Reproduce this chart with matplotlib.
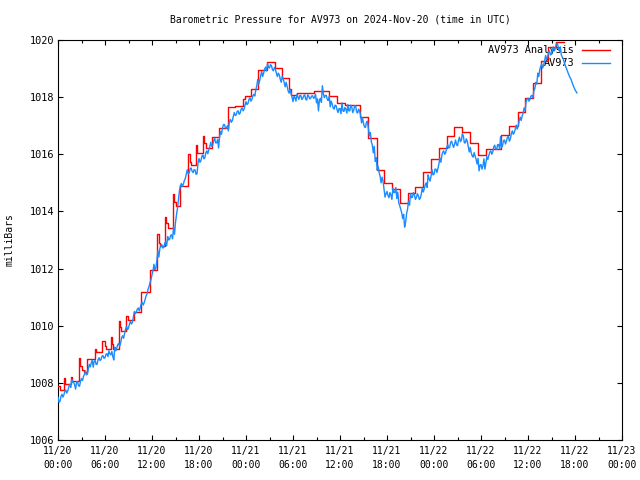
import numpy as np
import matplotlib
matplotlib.use('Agg')
import matplotlib.pyplot as plt

# time axis: hours since 2024-11-20 00:00 UTC

obs_step = 0.25
obs_pressure = [
    1007.50, 1007.35, 1007.60, 1007.58, 1007.75, 1007.72, 1007.95, 1008.12,
    1008.02, 1007.78, 1008.03, 1007.88, 1008.15, 1008.22, 1008.42, 1008.30,
    1008.65, 1008.70, 1008.55, 1008.78, 1008.66, 1008.88, 1008.82, 1008.95,
    1008.88, 1009.02, 1009.12, 1008.98, 1008.92, 1009.25, 1009.22, 1009.38,
    1009.40, 1009.65, 1009.72, 1009.98, 1009.92, 1010.15, 1010.12, 1010.50,
    1010.48, 1010.62, 1010.64, 1010.82, 1010.80, 1011.05, 1011.28, 1011.50,
    1011.78, 1012.15, 1012.02, 1012.62, 1012.70, 1012.84, 1012.74, 1012.95,
    1013.12, 1013.02, 1013.18, 1013.45, 1013.62, 1014.10, 1014.72, 1014.98,
    1014.95, 1015.15, 1015.46, 1015.34, 1015.52, 1015.36, 1015.45, 1015.32,
    1015.85, 1015.78, 1015.98, 1015.88, 1016.12, 1016.16, 1016.42, 1016.32,
    1016.56, 1016.40, 1016.22, 1016.80, 1016.92, 1017.04, 1016.92, 1016.82,
    1017.22, 1017.18, 1017.46, 1017.38, 1017.52, 1017.44, 1017.62, 1017.58,
    1017.84, 1017.78, 1017.98, 1017.92, 1018.10, 1018.25, 1018.62, 1018.58,
    1018.90, 1018.84, 1019.05, 1019.18, 1019.02, 1019.10, 1018.92, 1018.98,
    1018.72, 1018.78, 1018.52, 1018.66, 1018.36, 1018.38, 1018.14, 1018.12,
    1017.84, 1017.98, 1018.10, 1017.92, 1018.06, 1017.96, 1018.08, 1017.90,
    1018.04, 1017.96, 1018.05, 1017.98, 1017.80, 1017.52, 1017.96, 1018.40,
    1017.98, 1018.06, 1017.88, 1017.66, 1017.76, 1017.58, 1017.70, 1017.46,
    1017.60, 1017.80, 1017.50, 1017.58, 1017.74, 1017.52, 1017.66, 1017.54,
    1017.70, 1017.44, 1017.52, 1017.10, 1017.08, 1016.94, 1017.16, 1016.64,
    1016.44, 1016.05, 1015.75, 1015.45, 1015.36, 1015.00, 1015.05, 1014.50,
    1014.70, 1014.48, 1014.58, 1014.80, 1014.66, 1014.45, 1014.30, 1014.08,
    1013.75, 1013.45, 1013.92, 1014.36, 1014.62, 1014.50, 1014.58, 1014.48,
    1014.56, 1014.46, 1014.82, 1014.78, 1015.00, 1015.28, 1015.06, 1015.46,
    1015.30, 1015.48, 1015.50, 1015.86, 1015.96, 1016.12, 1016.06, 1016.34,
    1016.24, 1016.46, 1016.24, 1016.50, 1016.30, 1016.60, 1016.50, 1016.64,
    1016.40, 1016.46, 1016.08, 1016.05, 1015.90, 1015.94, 1015.66, 1015.42,
    1015.64, 1015.60, 1015.48, 1015.92, 1015.96, 1016.12, 1016.08, 1016.32,
    1016.18, 1016.34, 1016.62, 1016.30, 1016.50, 1016.46, 1016.62, 1016.54,
    1016.82, 1016.76, 1017.02, 1017.00, 1017.30, 1017.34, 1017.62, 1017.84,
    1017.96, 1017.92, 1018.06, 1018.22, 1018.52, 1018.84, 1018.96, 1019.16,
    1019.12, 1019.46, 1019.40, 1019.62, 1019.50, 1019.76, 1019.72, 1019.88,
    1019.64, 1019.48, 1019.34, 1019.12, 1018.94, 1018.76, 1018.62, 1018.42,
    1018.26, 1018.15,
]
# readings half way between those (xx:07.5, xx:22.5, ...), the other edge of the jitter
obs_between = [
    1007.32, 1007.52, 1007.50, 1007.70, 1007.64, 1007.86, 1007.84, 1008.02,
    1007.92, 1008.04, 1007.90, 1008.06, 1008.08, 1008.30, 1008.28, 1008.50,
    1008.56, 1008.78, 1008.76, 1008.64, 1008.82, 1008.78, 1008.94, 1008.86,
    1009.00, 1008.92, 1009.02, 1009.10, 1008.80, 1009.12, 1009.34, 1009.28,
    1009.58, 1009.56, 1009.88, 1009.86, 1010.06, 1010.06, 1010.30, 1010.42,
    1010.58, 1010.52, 1010.76, 1010.72, 1010.92, 1011.12, 1011.38, 1011.62,
    1011.92, 1011.96, 1012.30, 1012.40, 1012.80, 1012.72, 1012.88, 1012.80,
    1013.00, 1013.16, 1013.04, 1013.20, 1013.88, 1014.40, 1014.90, 1014.88,
    1015.08, 1015.30, 1015.32, 1015.50, 1015.40, 1015.46, 1015.30, 1015.70,
    1015.72, 1015.94, 1015.84, 1016.06, 1016.02, 1016.26, 1016.28, 1016.48,
    1016.40, 1016.52, 1016.60, 1016.70, 1017.04, 1016.92, 1017.00, 1017.14,
    1017.12, 1017.32, 1017.36, 1017.50, 1017.40, 1017.58, 1017.52, 1017.72,
    1017.74, 1017.92, 1017.86, 1018.04, 1018.04, 1018.40, 1018.46, 1018.76,
    1018.72, 1018.98, 1018.92, 1019.04, 1019.14, 1018.96, 1019.04, 1018.84,
    1018.84, 1018.62, 1018.72, 1018.50, 1018.52, 1018.22, 1018.28, 1018.00,
    1018.02, 1017.86, 1018.00, 1018.06, 1017.92, 1018.05, 1017.92, 1018.08,
    1017.94, 1018.04, 1017.96, 1018.10, 1017.94, 1017.90, 1017.82, 1018.12,
    1018.06, 1017.92, 1018.04, 1017.86, 1017.62, 1017.72, 1017.56, 1017.60,
    1017.42, 1017.52, 1017.64, 1017.44, 1017.52, 1017.72, 1017.46, 1017.70,
    1017.48, 1017.58, 1017.38, 1017.28, 1016.96, 1017.12, 1016.90, 1016.76,
    1016.32, 1016.28, 1015.88, 1015.58, 1015.22, 1015.20, 1014.78, 1014.62,
    1014.56, 1014.66, 1014.42, 1014.66, 1014.84, 1014.68, 1014.20, 1013.96,
    1013.90, 1013.62, 1014.08, 1014.22, 1014.48, 1014.66, 1014.42, 1014.62,
    1014.42, 1014.60, 1014.68, 1014.92, 1014.84, 1015.14, 1015.24, 1015.28,
    1015.48, 1015.36, 1015.66, 1015.72, 1016.08, 1016.00, 1016.24, 1016.22,
    1016.42, 1016.34, 1016.36, 1016.34, 1016.48, 1016.44, 1016.72, 1016.40,
    1016.54, 1016.28, 1016.24, 1015.94, 1016.06, 1015.82, 1015.86, 1015.62,
    1015.48, 1015.84, 1015.70, 1015.82, 1016.08, 1016.00, 1016.26, 1016.18,
    1016.34, 1016.18, 1016.24, 1016.48, 1016.36, 1016.60, 1016.46, 1016.72,
    1016.70, 1016.88, 1016.88, 1017.18, 1017.18, 1017.44, 1017.52, 1017.92,
    1017.86, 1018.04, 1017.98, 1018.30, 1018.46, 1018.72, 1019.08, 1019.02,
    1019.28, 1019.32, 1019.58, 1019.48, 1019.68, 1019.62, 1019.88, 1019.74,
    1019.76, 1019.40, 1019.22, 1019.02, 1018.84, 1018.68, 1018.52, 1018.34,
    1018.20,
]

# AV973 analysis (stepped)
ana_hours = [
    0.00, 0.20, 0.75, 0.85, 0.95, 1.70, 1.80, 2.68, 2.80, 3.10, 3.30, 3.74,
    4.68, 4.90, 5.66, 5.95, 6.15, 6.80, 6.95, 7.05, 7.74, 7.90, 8.10, 8.72,
    8.90, 9.70, 10.60, 11.70, 12.68, 12.85, 13.00, 13.66, 13.80, 14.00, 14.64,
    14.80, 15.00, 15.57, 16.64, 16.80, 17.00, 17.62, 17.75, 18.55, 18.70,
    18.90, 19.60, 20.60, 21.66, 22.60, 23.66, 23.85, 24.64, 25.57, 26.64,
    27.70, 28.55, 29.53, 29.80, 30.56, 32.68, 34.64, 35.58, 36.64, 38.55,
    39.60, 40.68, 41.62, 42.60, 43.66, 44.72, 45.57, 46.64, 47.62, 48.64,
    49.62, 50.60, 51.53, 52.60, 53.58, 54.60, 56.55, 57.60, 58.70, 59.60,
    60.68, 61.62, 62.60, 63.57, 64.60,
]
ana_pressure = [
    1007.90, 1007.75, 1008.16, 1008.05, 1007.95, 1008.19, 1008.05, 1008.86,
    1008.60, 1008.45, 1008.39, 1008.82, 1009.18, 1009.07, 1009.47, 1009.30,
    1009.18, 1009.62, 1009.35, 1009.18, 1010.18, 1009.95, 1009.80, 1010.35,
    1010.20, 1010.49, 1011.17, 1011.95, 1013.20, 1012.90, 1012.80, 1013.82,
    1013.60, 1013.42, 1014.60, 1014.34, 1014.20, 1014.90, 1016.01, 1015.74,
    1015.62, 1016.33, 1016.03, 1016.64, 1016.40, 1016.21, 1016.62, 1016.93,
    1017.64, 1017.70, 1017.92, 1018.05, 1018.28, 1018.95, 1019.24, 1019.01,
    1018.66, 1018.30, 1018.08, 1018.13, 1018.23, 1018.04, 1017.78, 1017.73,
    1017.32, 1016.56, 1015.45, 1014.98, 1014.77, 1014.28, 1014.63, 1014.84,
    1015.39, 1015.82, 1016.23, 1016.64, 1016.94, 1016.77, 1016.38, 1015.99,
    1016.17, 1016.67, 1016.99, 1017.49, 1017.98, 1018.48, 1019.27, 1019.77,
    1019.94, 1019.94,
]

tick_hours = [0, 6, 12, 18, 24, 30, 36, 42, 48, 54, 60, 66, 72]
tick_labels = ['11/20\n00:00', '11/20\n06:00', '11/20\n12:00', '11/20\n18:00',
               '11/21\n00:00', '11/21\n06:00', '11/21\n12:00', '11/21\n18:00',
               '11/22\n00:00', '11/22\n06:00', '11/22\n12:00', '11/22\n18:00',
               '11/23\n00:00']

RED = '#ff0000'
BLUE = '#1a8cff'

# merge the two sets of readings into one time ordered series
n_obs = len(obs_pressure)
obs_hours = np.empty(n_obs + len(obs_between))
obs_values = np.empty_like(obs_hours)
obs_hours[0::2] = np.arange(n_obs) * obs_step
obs_values[0::2] = obs_pressure
obs_hours[1::2] = np.arange(len(obs_between)) * obs_step + obs_step / 2
obs_values[1::2] = obs_between

plt.rcParams['font.family'] = ['DejaVu Sans Mono']
plt.rcParams['font.size'] = 7

fig = plt.figure(figsize=(6.4, 4.8), dpi=100)
ax = fig.add_axes([58/640, 40/480, 564/640, 400/480])

ax.step(ana_hours, ana_pressure, where='post', color=RED, lw=1.0, zorder=3)
ax.plot(obs_hours, obs_values, color=BLUE, lw=1.0, zorder=4)

ax.set_xlim(0, 72)
ax.set_ylim(1006, 1020)
ax.set_xticks(tick_hours)
ax.set_xticklabels(tick_labels, linespacing=1.5)
ax.set_xticks(np.arange(3, 72, 6), minor=True)
ax.set_yticks(np.arange(1006, 1021, 2))
ax.tick_params(which='both', direction='in', top=True, right=True, width=0.8)
ax.tick_params(which='major', length=3.5)
ax.tick_params(which='minor', length=2.5)
ax.tick_params(axis='x', pad=4)
ax.tick_params(axis='y', pad=3, labelsize=7.4)
for s in ax.spines.values():
    s.set_linewidth(0.8)

# key, drawn underneath the curves like gnuplot does
for ypos, lab, col in [(0.976, 'AV973 Analysis', RED), (0.9425, 'AV973', BLUE)]:
    ax.text(0.915, ypos, lab, transform=ax.transAxes, ha='right', va='center',
            fontsize=7.4, zorder=1)
    ax.plot([0.9286, 0.9787], [ypos, ypos], transform=ax.transAxes,
            color=col, lw=1.0, zorder=1, clip_on=False)

fig.text(340/640, 1 - 20/480, 'Barometric Pressure for AV973 on 2024-Nov-20 (time in UTC)',
         ha='center', va='center')
fig.text(10/640, 0.5, 'milliBars', rotation=90, ha='center', va='center')

fig.savefig('out.png', dpi=100)
